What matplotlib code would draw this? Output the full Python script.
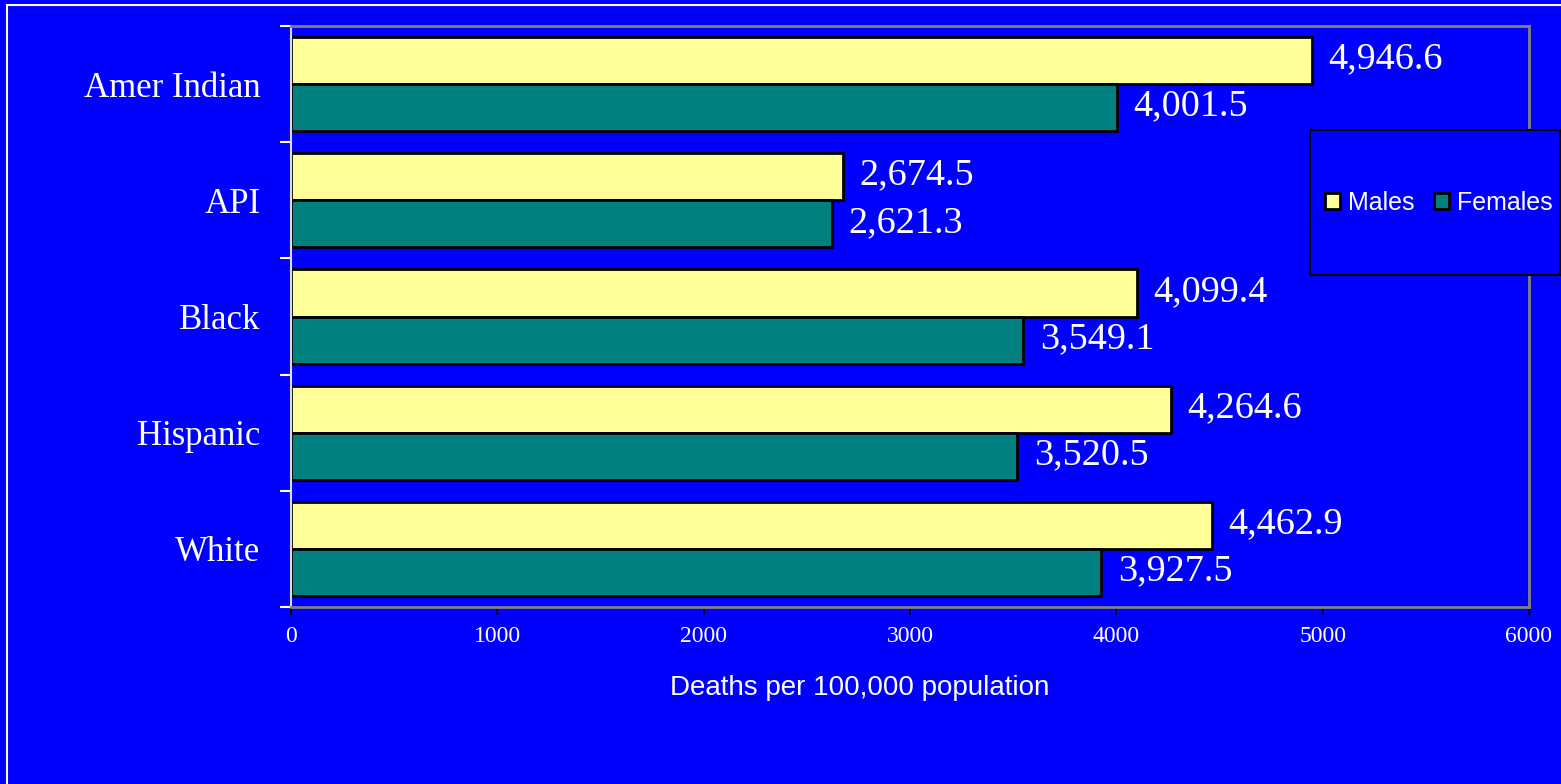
import numpy as np
import matplotlib
matplotlib.use('Agg')
import matplotlib.pyplot as plt
from matplotlib.patches import Rectangle

# Death rates per 100,000 population by race and sex.
groups = ['Amer Indian', 'API', 'Black', 'Hispanic', 'White']
males = [4946.6, 2674.5, 4099.4, 4264.6, 4462.9]
females = [4001.5, 2621.3, 3549.1, 3520.5, 3927.5]
x_ticks = [0, 1000, 2000, 3000, 4000, 5000, 6000]

blue = '#0000FF'
yellow = '#FFFF99'
teal = '#008080'
serif = 'Liberation Serif'
sans = 'Liberation Sans'

fig = plt.figure(figsize=(15.61, 7.84), dpi=100)
fig.patch.set_facecolor(blue)

# Outer white frame of the slide (runs off the right and bottom edges).
fig.patches.append(Rectangle((7 / 1561, -0.2), 1.2, 1.2 - 5 / 784,
                             transform=fig.transFigure, fill=False,
                             edgecolor='white', linewidth=1.5))

ax = fig.add_axes([291 / 1561, 1 - 607 / 784, (1529 - 291) / 1561, (607 - 26) / 784])
ax.set_facecolor(blue)

y = np.arange(len(groups))
h = 0.405
bm = ax.barh(y - h / 2, males, height=h, color=yellow, edgecolor='black',
             linewidth=2, label='Males')
bf = ax.barh(y + h / 2, females, height=h, color=teal, edgecolor='black',
             linewidth=2, label='Females')

# Value labels to the right of each bar.
for bars, vals in [(bm, males), (bf, females)]:
    for b, v in zip(bars, vals):
        ax.annotate('{:,.1f}'.format(v), (v, b.get_y() + b.get_height() / 2),
                    xytext=(12, 1), textcoords='offset points',
                    ha='left', va='center', color='white',
                    fontsize=27.5, family=serif)

ax.set_xlim(0, 6000)
ax.set_ylim(len(groups) - 0.5, -0.5)
ax.set_xticks(x_ticks)
ax.set_xticklabels([str(t) for t in x_ticks], fontsize=17, family=serif, color='white')
ax.tick_params(axis='x', direction='out', length=6, width=1.2, color='black', pad=8)

ax.set_yticks(y)
ax.set_yticklabels(groups, fontsize=25, family=serif, color='white')
ax.set_yticks(np.arange(-0.5, len(groups)), minor=True)
ax.tick_params(axis='y', which='major', length=0, pad=22)
ax.tick_params(axis='y', which='minor', direction='out', length=8, width=1.5, color='white')

for s in ['top', 'right', 'bottom']:
    ax.spines[s].set_color('#808080')
    ax.spines[s].set_linewidth(2)
ax.spines['left'].set_color('#DDDDDD')
ax.spines['left'].set_linewidth(1.5)

ax.set_xlabel('Deaths per 100,000 population', fontsize=20, family=sans,
              color='white', labelpad=20)
ax.xaxis.label.set_x((860 - 291) / 1238)

# Legend box.
fig.patches.append(Rectangle((1310 / 1561, 1 - 275 / 784), 250 / 1561, 145 / 784,
                             transform=fig.transFigure, facecolor=blue,
                             edgecolor='black', linewidth=1.5, zorder=3))
leg = fig.legend(handles=[bm, bf], labels=['Males', 'Females'], ncol=2,
                 loc='center', bbox_to_anchor=(1439 / 1561, 1 - 203 / 784),
                 frameon=False, prop={'family': sans, 'size': 18},
                 handlelength=0.6, handleheight=0.6, handletextpad=0.3,
                 columnspacing=0.8, labelcolor='white')
leg.set_zorder(4)

fig.savefig('out.png', dpi=100, facecolor=blue)
